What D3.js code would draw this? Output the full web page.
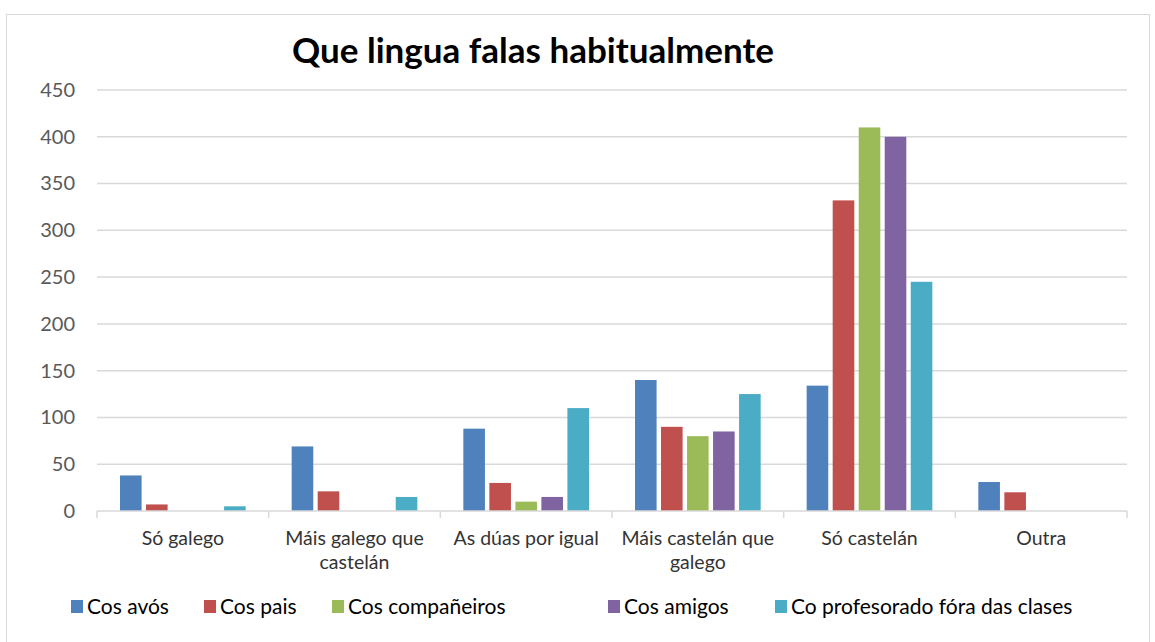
<!DOCTYPE html>
<html>
<head>
<meta charset="utf-8">
<script src="https://cdn.jsdelivr.net/npm/d3@7"></script>
<style>
  body { margin: 0; background: #fff; }
  text { font-family: Lato, "Open Sans", sans-serif; }
</style>
</head>
<body>
<div class="chart"></div>
<script>
// chart data
const categories = [
  ["Só galego"],
  ["Máis galego que", "castelán"],
  ["As dúas por igual"],
  ["Máis castelán que", "galego"],
  ["Só castelán"],
  ["Outra"]
];
const seriesNames = ["Cos avós", "Cos pais", "Cos compañeiros", "Cos amigos", "Co profesorado fóra das clases"];
const avos = [38, 69, 88, 140, 134, 31];
const pais = [7, 21, 30, 90, 332, 20];
const companeiros = [0, 0, 10, 80, 410, 0];
const amigos = [0, 0, 15, 85, 400, 0];
const profesorado = [5, 15, 110, 125, 245, 0];
const yTicks = [0, 50, 100, 150, 200, 250, 300, 350, 400, 450];
const colors = ["#4f81bd", "#c0504d", "#9bbb59", "#8064a2", "#4bacc6"];

const series = [avos, pais, companeiros, amigos, profesorado];

// chart size
const WIDTH = 1155;
const HEIGHT = 642;
const LEFT = 97, RIGHT = 1127, TOP = 90, BOTTOM = 511;

const svg = d3.select(".chart")
  .append("svg")
  .attr("width", WIDTH)
  .attr("height", HEIGHT);

// outer frame
svg.append("rect")
  .attr("x", 6.5).attr("y", 14.5)
  .attr("width", 1143).attr("height", 640)
  .attr("fill", "#fff")
  .attr("stroke", "#d9d9d9")
  .attr("stroke-width", 1);

// scales
const x0 = d3.scaleBand()
  .domain(d3.range(categories.length))
  .range([LEFT, RIGHT])
  .padding(0);

const x1 = d3.scaleBand()
  .domain(d3.range(seriesNames.length))
  .range([23, x0.bandwidth() - 23])
  .paddingInner(0.17);

const y = d3.scaleLinear()
  .domain([0, 450])
  .range([BOTTOM, TOP]);

// gridlines
svg.append("g")
  .selectAll("line")
  .data(yTicks.filter((d) => d > 0))
  .enter()
  .append("line")
  .attr("x1", LEFT)
  .attr("x2", RIGHT)
  .attr("y1", (d) => y(d))
  .attr("y2", (d) => y(d))
  .attr("stroke", "#d9d9d9")
  .attr("stroke-width", 1.5);

// y axis labels
const yAxis = d3.axisLeft(y).tickValues(yTicks).tickSize(0).tickPadding(22);
svg.append("g")
  .attr("transform", `translate(${LEFT},0)`)
  .call(yAxis)
  .call((g) => g.select(".domain").remove())
  .selectAll("text")
  .attr("fill", "#595959")
  .style("font-size", "20px")
  .style("font-family", "Lato, sans-serif");

// bars
const groups = svg.append("g")
  .selectAll("g")
  .data(categories)
  .enter()
  .append("g")
  .attr("transform", (d, i) => `translate(${x0(i)},0)`);

groups.selectAll("rect")
  .data((d, i) => series.map((s, k) => ({ k: k, v: s[i] })))
  .enter()
  .append("rect")
  .attr("x", (d) => x1(d.k))
  .attr("width", x1.bandwidth())
  .attr("y", (d) => y(d.v))
  .attr("height", (d) => y(0) - y(d.v))
  .attr("fill", (d) => colors[d.k]);

// x axis line and ticks
svg.append("line")
  .attr("x1", LEFT).attr("x2", RIGHT)
  .attr("y1", BOTTOM).attr("y2", BOTTOM)
  .attr("stroke", "#d9d9d9")
  .attr("stroke-width", 1.5);

svg.append("g")
  .selectAll("line")
  .data(d3.range(categories.length + 1))
  .enter()
  .append("line")
  .attr("x1", (d) => LEFT + d * x0.bandwidth())
  .attr("x2", (d) => LEFT + d * x0.bandwidth())
  .attr("y1", BOTTOM)
  .attr("y2", BOTTOM + 7)
  .attr("stroke", "#d9d9d9")
  .attr("stroke-width", 1.5);

// category labels
const catLabels = svg.append("g")
  .selectAll("text")
  .data(categories)
  .enter()
  .append("text")
  .attr("text-anchor", "middle")
  .attr("fill", "#333")
  .style("font-size", "19.5px");

catLabels.selectAll("tspan")
  .data((d, i) => d.map((line) => ({ line: line, i: i })))
  .enter()
  .append("tspan")
  .attr("x", (d) => x0(d.i) + x0.bandwidth() / 2)
  .attr("y", (d, j) => 545 + j * 24)
  .text((d) => d.line);

// title
svg.append("text")
  .attr("x", 533)
  .attr("y", 63)
  .attr("text-anchor", "middle")
  .attr("fill", "#000")
  .style("font-size", "35px")
  .style("font-weight", "bold")
  .text("Que lingua falas habitualmente");

// legend
const legendX = [71, 204, 332, 608, 775];
const legend = svg.append("g")
  .selectAll("g")
  .data(seriesNames)
  .enter()
  .append("g")
  .attr("transform", (d, i) => `translate(${legendX[i]},600)`);

legend.append("rect")
  .attr("width", 12)
  .attr("height", 13)
  .attr("fill", (d, i) => colors[i]);

legend.append("text")
  .attr("x", 16)
  .attr("y", 14)
  .attr("fill", "#000")
  .style("font-size", "21px")
  .text((d) => d);
</script>
</body>
</html>
